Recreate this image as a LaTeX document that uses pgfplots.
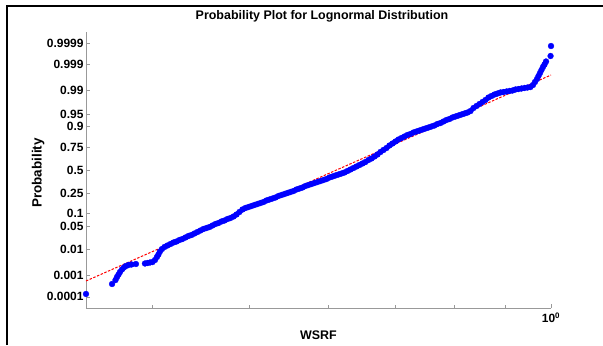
\documentclass[border=0pt]{standalone}
\usepackage{pgfplots}
\pgfplotsset{compat=1.18}
\usepackage{fontspec}
\setmainfont{Liberation Sans}
\definecolor{axgray}{gray}{0.6}
\begin{document}
\begin{tikzpicture}[x=1bp,y=1bp]
\useasboundingbox (0,0) rectangle (603,345);
\draw[line width=2.2bp,black] (7,0) -- (7,339) -- (603,339);
\begin{axis}[
  at={(86bp,37bp)}, anchor=south west,
  scale only axis, width=465bp, height=276bp,
  xmode=log, xmin=0.3439, xmax=1.0,
  ymin=-4.047, ymax=4.047,
  clip=false,
  axis x line*=bottom, axis y line*=left,
  axis line style={axgray, line width=0.6bp},
  tick style={axgray, line width=0.6bp},
  tick align=inside,
  major tick length=4bp, minor tick length=3bp,
  xtick={1}, xticklabels={\textbf{10}\textsuperscript{\textbf{0}}},
  minor xtick={0.4,0.5,0.6,0.7,0.8,0.9},
  ytick={-3.719,-3.090,-2.326,-1.645,-1.2816,-0.6745,0,0.6745,1.2816,1.645,2.326,3.090,3.719},
  yticklabels={\textbf{0.0001},\textbf{0.001},\textbf{0.01},\textbf{0.05},\textbf{0.1},\textbf{0.25},\textbf{0.5},\textbf{0.75},\textbf{0.9},\textbf{0.95},\textbf{0.99},\textbf{0.999},\textbf{0.9999}},
  ticklabel style={font=\fontsize{12}{12}\selectfont, black},
  yticklabel style={xshift=1bp},
  xticklabel style={yshift=-1bp},
  xlabel={\textbf{WSRF}},
  xlabel style={at={(0.5,-0.098)}, anchor=center, font=\fontsize{12.5}{12.5}\selectfont},
  ylabel={\textbf{Probability}},
  ylabel style={at={(-0.103,0.489)}, anchor=center, font=\fontsize{13.5}{13.5}\selectfont},
]
\node[font=\fontsize{12.5}{12.5}\selectfont\bfseries, anchor=center] at (axis description cs:0.5075,1.058) {Probability Plot for Lognormal Distribution};
\addplot[only marks, mark=*, mark size=2.9bp, color=blue, mark options={draw=blue, fill=blue}] coordinates {
(0.3439,-3.636) (0.3651,-3.343) (0.3680,-3.226) (0.3693,-3.138) (0.3706,-3.065)
(0.3718,-2.991) (0.3735,-2.918) (0.3752,-2.859) (0.3770,-2.815) (0.3792,-2.786)
(0.3818,-2.771) (0.3857,-2.757) (0.3938,-2.742) (0.3960,-2.727) (0.3983,-2.713)
(0.4006,-2.698) (0.4029,-2.639) (0.4047,-2.551) (0.4061,-2.478) (0.4075,-2.390)
(0.4094,-2.317) (0.4118,-2.258) (0.4146,-2.214) (0.4175,-2.170) (0.4204,-2.126)
(0.4233,-2.097) (0.4262,-2.053) (0.4291,-2.023) (0.4321,-1.979) (0.4351,-1.935)
(0.4381,-1.906) (0.4411,-1.862) (0.4442,-1.818) (0.4472,-1.774) (0.4503,-1.730)
(0.4535,-1.701) (0.4566,-1.672) (0.4597,-1.628) (0.4629,-1.584) (0.4661,-1.554)
(0.4693,-1.510) (0.4726,-1.481) (0.4759,-1.437) (0.4791,-1.408) (0.4825,-1.364)
(0.4858,-1.305) (0.4891,-1.232) (0.4925,-1.158) (0.4959,-1.114) (0.4994,-1.085)
(0.5028,-1.056) (0.5063,-1.026) (0.5098,-0.997) (0.5133,-0.968) (0.5169,-0.938)
(0.5204,-0.894) (0.5240,-0.865) (0.5276,-0.836) (0.5313,-0.806) (0.5350,-0.762)
(0.5387,-0.733) (0.5424,-0.704) (0.5461,-0.674) (0.5499,-0.645) (0.5537,-0.616)
(0.5575,-0.572) (0.5614,-0.543) (0.5653,-0.513) (0.5692,-0.469) (0.5731,-0.440)
(0.5771,-0.411) (0.5811,-0.381) (0.5851,-0.352) (0.5891,-0.323) (0.5932,-0.293)
(0.5973,-0.264) (0.6014,-0.220) (0.6056,-0.191) (0.6097,-0.161) (0.6140,-0.132)
(0.6182,-0.103) (0.6225,-0.073) (0.6268,-0.029) (0.6311,0.015) (0.6355,0.059)
(0.6399,0.103) (0.6443,0.147) (0.6487,0.191) (0.6532,0.235) (0.6577,0.293)
(0.6623,0.337) (0.6669,0.396) (0.6715,0.455) (0.6761,0.528) (0.6808,0.587)
(0.6855,0.645) (0.6902,0.718) (0.6950,0.777) (0.6998,0.836) (0.7046,0.894)
(0.7095,0.938) (0.7144,0.982) (0.7193,1.026) (0.7243,1.056) (0.7293,1.100)
(0.7344,1.129) (0.7394,1.158) (0.7445,1.188) (0.7497,1.217) (0.7549,1.246)
(0.7601,1.276) (0.7653,1.305) (0.7706,1.349) (0.7760,1.378) (0.7813,1.422)
(0.7867,1.466) (0.7922,1.496) (0.7976,1.540) (0.8031,1.569) (0.8087,1.598)
(0.8143,1.628) (0.8199,1.657) (0.8256,1.686) (0.8313,1.730) (0.8370,1.818)
(0.8428,1.877) (0.8486,1.935) (0.8545,1.994) (0.8604,2.053) (0.8663,2.126)
(0.8723,2.170) (0.8784,2.214) (0.8844,2.243) (0.8905,2.273) (0.8967,2.287)
(0.9029,2.302) (0.9091,2.317) (0.9154,2.331) (0.9217,2.361) (0.9281,2.375)
(0.9345,2.390) (0.9410,2.405) (0.9475,2.419) (0.9540,2.434) (0.9595,2.493)
(0.9639,2.581) (0.9684,2.669) (0.9717,2.757) (0.9751,2.845) (0.9784,2.933)
(0.9818,3.021) (0.9852,3.094) (0.9886,3.182) (0.9990,3.343) (1.0000,3.636)
};
\addplot[red, dashed, line width=1bp, dash pattern=on 2.5bp off 1.5bp] coordinates {
(0.3439,-3.255) (1.0,2.786)
};
\end{axis}
\end{tikzpicture}
\end{document}
